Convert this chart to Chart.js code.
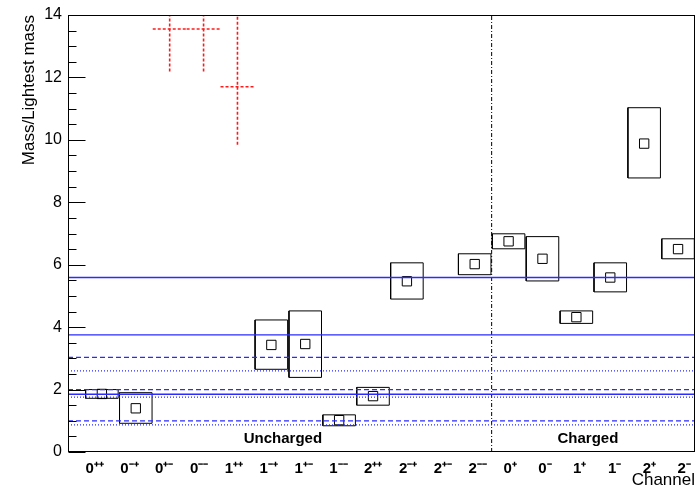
<!DOCTYPE html>
<html>
<head>
<meta charset="utf-8">
<script src="https://cdn.jsdelivr.net/npm/chart.js@4/dist/chart.umd.min.js"></script>
<style>
  body { margin: 0; background: #fff; }
  canvas { display: block; }
</style>
</head>
<body>
<canvas id="massChart" width="696" height="491"></canvas>
<script>
// channel labels along the bottom
const channels = ['0⁺⁺', '0⁻⁺', '0⁺⁻', '0⁻⁻', '1⁺⁺', '1⁻⁺', '1⁺⁻', '1⁻⁻', '2⁺⁺', '2⁻⁺', '2⁺⁻', '2⁻⁻',
                  '0⁺', '0⁻', '1⁺', '1⁻', '2⁺', '2⁻'];

// measured states: channel index, central value, box low / high
const stateIndex = [0, 1, 5, 6, 7, 8, 9, 11, 12, 13, 14, 15, 16, 17];
const stateMass  = [1.86, 1.40, 3.43, 3.46, 1.02, 1.79, 5.47, 6.02, 6.75, 6.19, 4.32, 5.59, 9.88, 6.50];
const stateLow   = [1.72, 0.92, 2.65, 2.39, 0.84, 1.50, 4.90, 5.68, 6.51, 5.48, 4.12, 5.13, 8.78, 6.19];
const stateHigh  = [2.00, 1.90, 4.23, 4.52, 1.19, 2.07, 6.06, 6.35, 6.99, 6.90, 4.52, 6.06, 11.03, 6.83];

// states with large errors (dashed red crosses)
const wideIndex = [2, 3, 4];
const wideMass  = [13.55, 13.55, 11.70];
const wideLow   = [12.19, 12.19, 9.84];
const wideHigh  = [15.0, 15.0, 14.6];

// horizontal reference levels
const refLevels = [5.59, 3.75, 3.03, 2.60, 2.00, 1.85, 1.76, 1.00, 0.87];
const refStyles = ['solid', 'solid', 'dash', 'dot', 'dash', 'solid', 'dot', 'dash', 'dot'];

// uncharged / charged split
const splitAt = 11.5;
const sectorNames = ['Uncharged', 'Charged'];
const sectorX = [5.34, 14.34];
const sectorY = [0.42, 0.42];

const yTicks = [0, 2, 4, 6, 8, 10, 12, 14];

const X_MIN = -1.0, X_MAX = 17.5;
const HALF_BOX = 0.48;
const AREA = { left: 68, top: 15, right: 695, bottom: 452 };
const FONT = '"Liberation Sans", Arial, Helvetica, sans-serif';
const dashes = { solid: [], dash: [5, 3], dot: [1, 2] };

const datasets = [];

refLevels.forEach((v, k) => {
  datasets.push({
    data: [{ x: X_MIN, y: v }, { x: X_MAX, y: v }],
    borderColor: '#2b2bff',
    borderWidth: 1.3,
    borderDash: dashes[refStyles[k]]
  });
});

datasets.push({
  data: [{ x: splitAt, y: 0 }, { x: splitAt, y: 14 }],
  borderColor: '#000',
  borderWidth: 1,
  borderDash: [4, 2, 1, 2]
});

wideIndex.forEach((c, k) => {
  const red = { borderColor: '#ff1a1a', borderWidth: 1.6, borderDash: [3, 2] };
  datasets.push({ ...red, data: [{ x: c, y: wideLow[k] }, { x: c, y: wideHigh[k] }] });
  datasets.push({ ...red, data: [{ x: c - 0.5, y: wideMass[k] }, { x: c + 0.5, y: wideMass[k] }] });
});

stateIndex.forEach((c, k) => {
  datasets.push({
    data: [
      { x: c - HALF_BOX, y: stateLow[k] }, { x: c + HALF_BOX, y: stateLow[k] },
      { x: c + HALF_BOX, y: stateHigh[k] }, { x: c - HALF_BOX, y: stateHigh[k] },
      { x: c - HALF_BOX, y: stateLow[k] }
    ],
    borderColor: '#000',
    borderWidth: 1
  });
});

datasets.push({
  data: stateIndex.map((c, k) => ({ x: c, y: stateMass[k] })),
  showLine: false,
  pointStyle: 'rect',
  pointRadius: 6.6,
  pointBorderWidth: 1,
  pointBorderColor: '#000',
  pointBackgroundColor: 'rgba(0,0,0,0)'
});

// frame, inward ticks and sector names
const frame = {
  id: 'frame',
  afterDatasetsDraw(chart) {
    const { ctx, chartArea: a, scales: { x, y } } = chart;
    const L = Math.round(a.left) + 0.5, R = Math.round(a.right) - 0.5;
    const T = Math.round(a.top) + 0.5, B = Math.round(a.bottom) - 0.5;
    ctx.save();
    ctx.strokeStyle = '#000';
    ctx.lineWidth = 1;
    ctx.strokeRect(L, T, R - L, B - T);
    ctx.beginPath();
    for (let v = 0; v <= 14 + 1e-9; v += 0.5) {
      const py = Math.round(y.getPixelForValue(v)) + 0.5;
      const len = Math.abs(v % 2) < 1e-9 ? 17 : 8;
      ctx.moveTo(L, py);
      ctx.lineTo(L + len, py);
    }
    ctx.stroke();
    ctx.fillStyle = '#000';
    ctx.font = 'bold 15px ' + FONT;
    ctx.textAlign = 'center';
    ctx.textBaseline = 'middle';
    sectorNames.forEach((s, k) => {
      ctx.fillText(s, x.getPixelForValue(sectorX[k]), y.getPixelForValue(sectorY[k]));
    });
    ctx.restore();
  }
};

new Chart(document.getElementById('massChart'), {
  type: 'scatter',
  data: { labels: channels, datasets },
  options: {
    responsive: false,
    animation: false,
    showLine: true,
    elements: { point: { radius: 0, hoverRadius: 0 }, line: { tension: 0, fill: false } },
    // markers must not push the plot frame inwards
    layout: { autoPadding: false, padding: { top: AREA.top, right: 696 - AREA.right, left: 0, bottom: 0 } },
    plugins: { legend: { display: false }, tooltip: { enabled: false } },
    scales: {
      x: { type: 'linear', min: X_MIN, max: X_MAX, display: false },
      channel: {
        type: 'category',
        position: 'bottom',
        labels: channels,
        offset: true,
        grid: { display: false, drawTicks: false },
        border: { display: false },
        ticks: { color: '#000', padding: 8, maxRotation: 0, autoSkip: false, align: 'start',
                 font: { family: FONT, size: 15, weight: 'bold' } },
        title: { display: true, text: 'Channel', align: 'end', color: '#000',
                 padding: { top: 0, bottom: 0 }, font: { family: FONT, size: 17 } },
        afterFit: s => { s.height = 491 - AREA.bottom; s.paddingLeft = 0; s.paddingRight = 0; }
      },
      y: {
        min: 0, max: 14,
        afterBuildTicks: s => { s.ticks = yTicks.map(v => ({ value: v })); },
        grid: { drawOnChartArea: false, drawTicks: false },
        border: { display: false },
        ticks: { color: '#000', padding: 6, font: { family: FONT, size: 16 } },
        title: { display: true, text: 'Mass/Lightest mass', align: 'end', color: '#000',
                 padding: { top: 19, bottom: 0 }, font: { family: FONT, size: 17 } },
        afterFit: s => { s.width = AREA.left; s.paddingTop = 0; s.paddingBottom = 0; }
      }
    }
  },
  plugins: [frame]
});
</script>
</body>
</html>
